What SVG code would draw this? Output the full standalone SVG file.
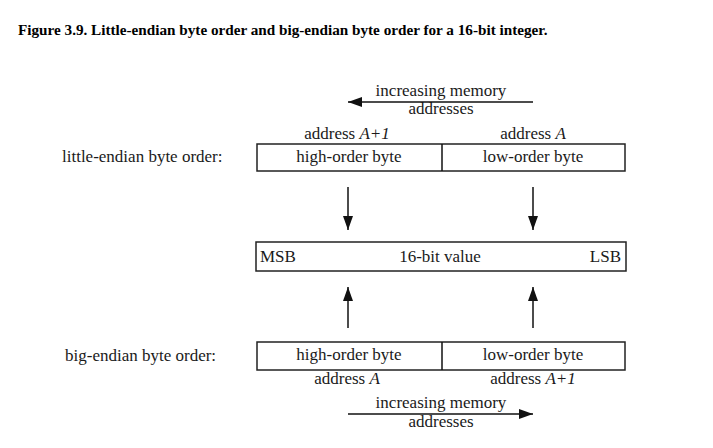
<svg xmlns="http://www.w3.org/2000/svg" width="713" height="448" viewBox="0 0 713 448">
<style>
text{font-family:"Liberation Serif","Times New Roman",serif;fill:#1a1a1a;font-size:17px}
.t{font-weight:bold;font-size:15.2px;fill:#000}
.c{text-anchor:middle}
.box{fill:#fff;stroke:#222;stroke-width:1.5}
.ln{stroke:#111;stroke-width:1.5;fill:none}
</style>
<defs>
<marker id="ah2" viewBox="0 0 10 10" refX="10" refY="5" markerWidth="14" markerHeight="10" markerUnits="userSpaceOnUse" orient="auto" preserveAspectRatio="none"><path d="M0,0 L10,5 L0,10 z" fill="#111"/></marker>
</defs>
<rect width="713" height="448" fill="#fff"/>
<text class="t" x="18" y="35">Figure 3.9. Little-endian byte order and big-endian byte order for a 16-bit integer.</text>

<g id="little-label"><text x="62" y="162">little-endian byte order:</text></g>
<g id="big-label"><text x="65" y="361">big-endian byte order:</text></g>

<g id="little-box">
<rect class="box" x="257" y="144" width="368" height="27"/>
<line class="ln" x1="442" y1="144" x2="442" y2="171"/>
<text class="c" x="349" y="162">high-order byte</text>
<text class="c" x="533" y="162">low-order byte</text>
<text class="c" x="347" y="139">address <tspan font-style="italic">A+1</tspan></text>
<text class="c" x="533" y="139">address <tspan font-style="italic">A</tspan></text>
</g>

<g id="top-addr">
<text class="c" x="441" y="96">increasing memory</text>
<text class="c" x="441" y="114">addresses</text>
</g>

<g id="value-box">
<rect class="box" x="256" y="242" width="370" height="29"/>
<text x="260" y="262">MSB</text>
<text class="c" x="440" y="262">16-bit value</text>
<text x="621" y="262" text-anchor="end">LSB</text>
</g>

<g id="big-box">
<rect class="box" x="257" y="342" width="368" height="28"/>
<line class="ln" x1="442" y1="342" x2="442" y2="370"/>
<text class="c" x="349" y="360">high-order byte</text>
<text class="c" x="533" y="360">low-order byte</text>
<text class="c" x="347" y="384">address <tspan font-style="italic">A</tspan></text>
<text class="c" x="533" y="384">address <tspan font-style="italic">A+1</tspan></text>
</g>

<g id="bottom-addr">
<text class="c" x="441" y="408">increasing memory</text>
<text class="c" x="441" y="427">addresses</text>
</g>

<g id="connectors">
<line class="ln" x1="533" y1="102" x2="348" y2="102" marker-end="url(#ah2)"/>
<line class="ln" x1="348" y1="414" x2="533" y2="414" marker-end="url(#ah2)"/>
<line class="ln" x1="348" y1="187" x2="348" y2="230" marker-end="url(#ah2)"/>
<line class="ln" x1="533" y1="187" x2="533" y2="230" marker-end="url(#ah2)"/>
<line class="ln" x1="348" y1="328" x2="348" y2="287" marker-end="url(#ah2)"/>
<line class="ln" x1="533" y1="328" x2="533" y2="287" marker-end="url(#ah2)"/>
</g>
</svg>
